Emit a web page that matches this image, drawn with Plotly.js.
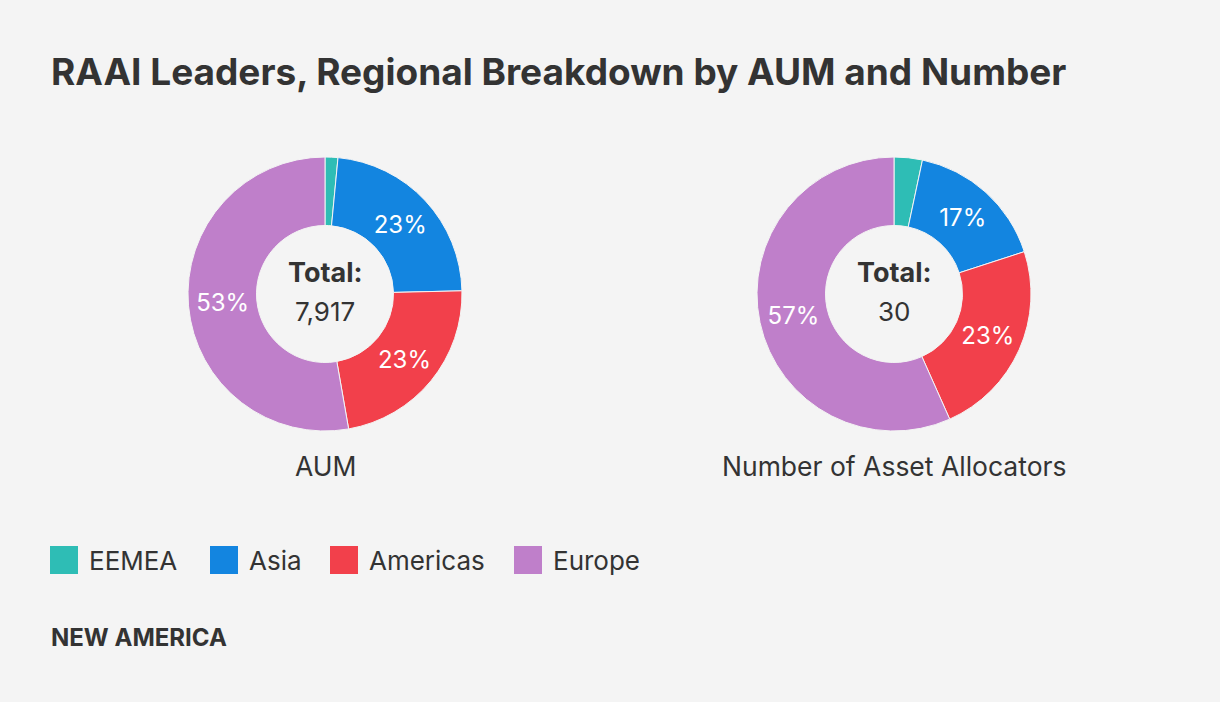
<!DOCTYPE html>
<html>
<head>
<meta charset="utf-8">
<script src="https://cdn.plot.ly/plotly-3.0.1.min.js"></script>
<style>
html,body{margin:0;padding:0;background:#f4f4f4;}
#chart{width:1220px;height:702px;}
</style>
</head>
<body>
<div id="chart"></div>
<script>
const categories = ["EEMEA", "Asia", "Americas", "Europe"];
const aumValues = [120, 1830, 1790, 4177];
const numberValues = [1, 5, 7, 17];
const chartTitles = ["AUM", "Number of Asset Allocators"];
const totalLabels = ["7,917", "30"];
const colors = ["#2ebdb5", "#1385e0", "#f2404b", "#bf7fca"];

const FONT = "Inter, 'Noto Sans', sans-serif";
const TEXT = "#333333";

function pieTrace(values, domainX, name) {
  const total = values.reduce((a, b) => a + b, 0);
  return {
    type: "pie",
    name: name,
    labels: categories,
    values: values,
    sort: false,
    direction: "clockwise",
    rotation: 0,
    hole: 0.5,
    domain: {x: domainX, y: [1 - 431/702, 1 - 157/702]},
    marker: {colors: colors, line: {color: "#f4f4f4", width: 1}},
    texttemplate: values.map(v => (v / total < 0.05 ? "" : "%{percent:.0%}")),
    textposition: "inside",
    insidetextorientation: "horizontal",
    textfont: {family: FONT, size: 24, color: "#ffffff"},
    hoverinfo: "label+value+percent",
    showlegend: false
  };
}

const data = [
  pieTrace(aumValues, [188/1220, 462/1220], chartTitles[0]),
  pieTrace(numberValues, [757/1220, 1031/1220], chartTitles[1])
];

const centers = [325/1220, 894/1220];
const annotations = [
  {text: "<b>RAAI Leaders, Regional Breakdown by AUM and Number</b>", x: 49/1220, y: 1 - 71/702,
   xref: "paper", yref: "paper", xanchor: "left", yanchor: "middle", showarrow: false,
   font: {family: FONT, size: 37, color: TEXT}},
  {text: "<b>NEW AMERICA</b>", x: 49/1220, y: 1 - 637/702,
   xref: "paper", yref: "paper", xanchor: "left", yanchor: "middle", showarrow: false,
   font: {family: FONT, size: 24, color: TEXT}}
];
centers.forEach((cx, i) => {
  annotations.push({text: "<b>Total:</b>", x: cx, y: 1 - 273/702, xref: "paper", yref: "paper",
    xanchor: "center", yanchor: "middle", showarrow: false, font: {family: FONT, size: 27, color: TEXT}});
  annotations.push({text: totalLabels[i], x: cx, y: 1 - 311/702, xref: "paper", yref: "paper",
    xanchor: "center", yanchor: "middle", showarrow: false, font: {family: FONT, size: 26, color: TEXT}});
  annotations.push({text: chartTitles[i], x: cx, y: 1 - 466/702, xref: "paper", yref: "paper",
    xanchor: "center", yanchor: "middle", showarrow: false, font: {family: FONT, size: 26.5, color: TEXT}});
});

// manual legend
const legendSquareX = [50, 210, 330, 514];
const shapes = [];
categories.forEach((c, i) => {
  const x0 = legendSquareX[i];
  shapes.push({type: "rect", xref: "paper", yref: "paper",
    x0: x0/1220, x1: (x0 + 28)/1220, y0: 1 - 574/702, y1: 1 - 546/702,
    fillcolor: colors[i], line: {width: 0}});
  annotations.push({text: c, x: (x0 + 37)/1220, y: 1 - 560/702, xref: "paper", yref: "paper",
    xanchor: "left", yanchor: "middle", showarrow: false, font: {family: FONT, size: 26, color: TEXT}});
});

const layout = {
  width: 1220, height: 702,
  margin: {l: 0, r: 0, t: 0, b: 0},
  paper_bgcolor: "#f4f4f4",
  plot_bgcolor: "#f4f4f4",
  showlegend: false,
  annotations: annotations,
  shapes: shapes
};

Plotly.newPlot("chart", data, layout, {displayModeBar: false});
</script>
</body>
</html>
